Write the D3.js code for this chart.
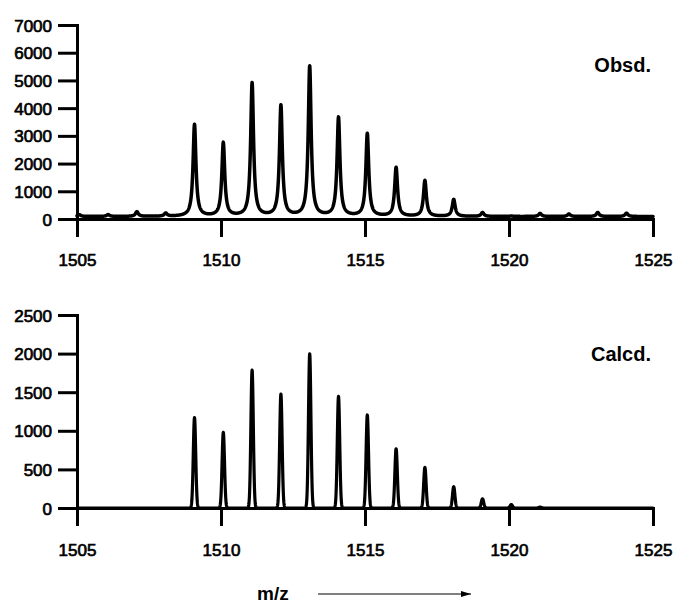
<!DOCTYPE html>
<html><head><meta charset="utf-8">
<script src="https://cdn.jsdelivr.net/npm/d3@7"></script>
<style>
body{margin:0;background:#fff;}
svg{display:block;}
text{font-family:"Liberation Sans", Arial, Helvetica, sans-serif;fill:#000;}
</style></head><body>
<svg id="chart" width="677" height="605"></svg>
<script>
// ---- data ----
const mzDomain = [1505, 1525];
const xTicks = [1505, 1510, 1515, 1520, 1525];
const obsYTicks = [0, 1000, 2000, 3000, 4000, 5000, 6000, 7000];
const calcYTicks = [0, 500, 1000, 1500, 2000, 2500];
const obsMz = [1505.08, 1506.08, 1507.08, 1508.08, 1509.08, 1510.08, 1511.08, 1512.08, 1513.08, 1514.08,
               1515.08, 1516.08, 1517.08, 1518.08, 1519.08, 1520.08, 1521.08, 1522.08, 1523.08, 1524.08];
const obsIntensity = [65, 65, 170, 110, 3313, 2646, 4802, 3989, 5404, 3556,
                      2977, 1755, 1292, 611, 140, 15, 110, 90, 145, 120];
const obsBaseline = 90;
const calcMz = [1509.08, 1510.08, 1511.08, 1512.08, 1513.08, 1514.08, 1515.08,
                1516.08, 1517.08, 1518.08, 1519.08, 1520.08, 1521.08];
const calcIntensity = [1170, 980, 1785, 1475, 1997, 1445, 1205, 767, 525, 275, 119, 45, 12];
const panelLabels = ["Obsd.", "Calcd."];
const axisLabel = "m/z";

// ---- drawing ----
const svg = d3.select("#chart");
const x = d3.scaleLinear().domain(mzDomain).range([77, 653]);
const yTop = d3.scaleLinear().domain([0, 7000]).range([219, 25]);
const yBot = d3.scaleLinear().domain([0, 2500]).range([508, 315]);

const lorentz = g => d => 1 / (1 + (d / g) * (d / g));
const gauss = s => d => Math.exp(-0.5 * (d / s) * (d / s));

function profile(mz, inten, shape, base) {
  const step = 0.005;
  const n = Math.round((mzDomain[1] - mzDomain[0]) / step);
  return d3.range(n + 1).map(i => {
    const m = mzDomain[0] + i * step;
    let v = base;
    for (let k = 0; k < mz.length; k++) v += inten[k] * shape(m - mz[k]);
    return [m, v];
  });
}

function drawPanel(y, ticks, labelBaseline, mz, inten, shape, base, name, nameY, strokeW) {
  const g = svg.append("g");
  const ya = g.append("g").attr("transform", `translate(${x.range()[0]},0)`)
    .call(d3.axisLeft(y).tickValues(ticks).tickSize(19).tickSizeOuter(0).tickPadding(6).tickFormat(d3.format("d")));
  const xa = g.append("g").attr("transform", `translate(0,${y(0)})`)
    .call(d3.axisBottom(x).tickValues(xTicks).tickSize(18).tickSizeOuter(0).tickFormat(d3.format("d")));
  [ya, xa].forEach(a => {
    a.select(".domain").attr("stroke", "#000").attr("stroke-width", 3).attr("stroke-linecap", "square");
    a.selectAll(".tick line").attr("stroke", "#000").attr("stroke-width", 3);
    a.selectAll(".tick text").attr("font-size", 17).attr("font-family", null)
      .attr("stroke", "#000").attr("stroke-width", 0.7).attr("fill", "#000");
  });
  xa.selectAll(".tick text").attr("y", labelBaseline - y(0)).attr("dy", 0);
  ya.selectAll(".tick text").attr("dy", "0.36em");

  const line = d3.line().x(d => x(d[0])).y(d => y(d[1]));
  g.append("path").datum(profile(mz, inten, shape, base))
    .attr("d", line).attr("fill", "none").attr("stroke", "#000")
    .attr("stroke-width", strokeW).attr("stroke-linejoin", "round").attr("stroke-linecap", "round");

  g.append("text").attr("x", 651).attr("y", nameY).attr("text-anchor", "end")
    .attr("font-size", 20).attr("font-weight", "bold").text(name);
}

drawPanel(yTop, obsYTicks, 266, obsMz, obsIntensity, lorentz(0.06), obsBaseline, panelLabels[0], 72, 3.5);
drawPanel(yBot, calcYTicks, 556, calcMz, calcIntensity, gauss(0.042), 0, panelLabels[1], 361, 3.2);

// m/z label and arrow
svg.append("defs").append("marker").attr("id", "arr")
  .attr("viewBox", "0 0 10 6").attr("refX", 10).attr("refY", 3)
  .attr("markerWidth", 10).attr("markerHeight", 6).attr("markerUnits", "userSpaceOnUse")
  .attr("orient", "auto")
  .append("path").attr("d", "M0,0L10,3L0,6Z").attr("fill", "#000");
svg.append("text").attr("x", 257).attr("y", 600).attr("font-size", 19).attr("font-weight", "bold").text(axisLabel);
svg.append("line").attr("x1", 318).attr("x2", 471).attr("y1", 594).attr("y2", 594)
  .attr("stroke", "#000").attr("stroke-width", 1).attr("marker-end", "url(#arr)");
</script>
</body></html>
